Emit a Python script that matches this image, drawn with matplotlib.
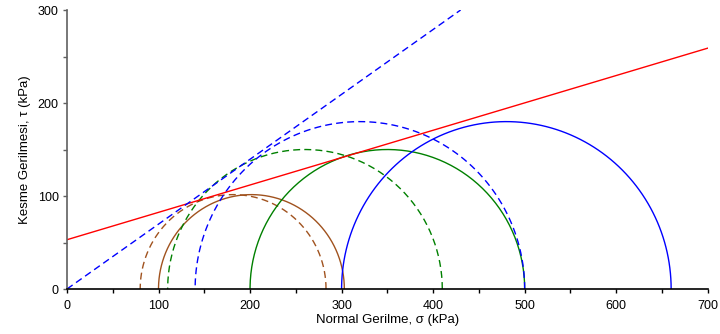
import numpy as np
import matplotlib
matplotlib.use("Agg")
import matplotlib.pyplot as plt

plt.rcParams['font.family'] = ['Liberation Sans', 'DejaVu Sans']

# Mohr circles: (sigma3, sigma1) pairs
brown_solid = (100, 303)
brown_dashed = (80, 283)
green_solid = (200, 500)
green_dashed = (110, 410)
blue_solid = (300, 660)
blue_dashed = (140, 500)

# failure envelopes
red_env_x = [0, 700]
red_env_y = [53, 259]
blue_env_x = [0, 430]
blue_env_y = [0, 300]

x_ticks = [0, 100, 200, 300, 400, 500, 600, 700]
y_ticks = [0, 100, 200, 300]

brown = '#A0521E'
green = '#008000'
blue = '#0000FF'
red = '#FF0000'

fig = plt.figure(figsize=(7.2, 3.34), dpi=100)
ax = fig.add_axes([0.093, 0.1347, 0.890, 0.8353])

def circle(ax, s3, s1, color, dashed):
    c = (s3 + s1) / 2.0
    r = (s1 - s3) / 2.0
    t = np.linspace(0, np.pi, 200)
    x = c + r * np.cos(t)
    y = r * np.sin(t)
    if dashed:
        ax.plot(x, y, color=color, lw=1.0, dashes=(5, 3))
    else:
        ax.plot(x, y, color=color, lw=1.0)

circle(ax, *brown_dashed, brown, True)
circle(ax, *brown_solid, brown, False)
circle(ax, *green_dashed, green, True)
circle(ax, *green_solid, green, False)
circle(ax, *blue_dashed, blue, True)
circle(ax, *blue_solid, blue, False)

ax.plot(red_env_x, red_env_y, color=red, lw=1.0)
ax.plot(blue_env_x, blue_env_y, color=blue, lw=1.0, dashes=(5, 3))

ax.set_xlim(0, 700)
ax.set_ylim(0, 300)
ax.set_xticks(x_ticks)
ax.set_yticks(y_ticks)
ax.set_xticks(np.arange(50, 700, 100), minor=True)
ax.set_yticks(np.arange(50, 300, 100), minor=True)

for s in ['top', 'right']:
    ax.spines[s].set_visible(False)
ax.spines['left'].set_color('#606060')
ax.spines['bottom'].set_color('black')
ax.spines['left'].set_linewidth(1.2)
ax.spines['bottom'].set_linewidth(1.2)

ax.tick_params(axis='x', which='both', direction='out', length=3, width=1, colors='black', labelsize=9, pad=5)
ax.tick_params(axis='y', which='both', direction='out', length=3, width=1, color='#606060', labelcolor='black', labelsize=9, pad=3)

ax.set_xlabel('Normal Gerilme, σ (kPa)', fontsize=9.5, labelpad=1)
ax.set_ylabel('Kesme Gerilmesi, τ (kPa)', fontsize=9.5, labelpad=5)

fig.savefig('out.png', dpi=100)
